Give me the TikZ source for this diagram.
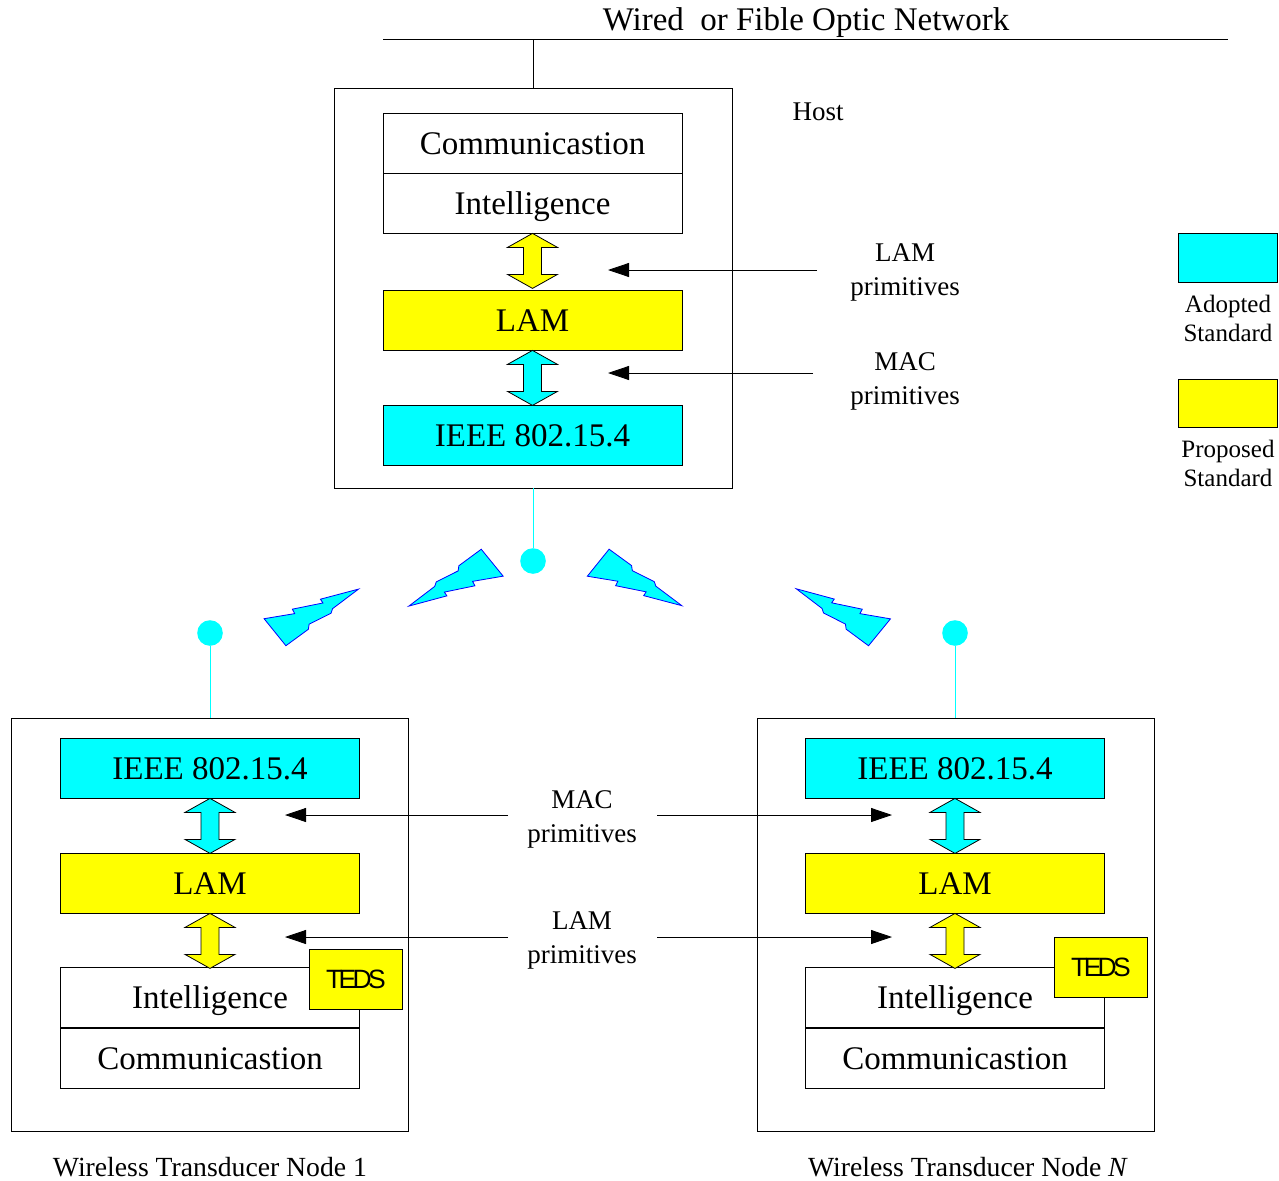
\documentclass[tikz,border=0pt]{standalone}
\usepackage{fontspec}
\setmainfont{Liberation Serif}
\newfontfamily\tedsfont[LetterSpace=-14]{Liberation Sans}
\usetikzlibrary{arrows.meta}

\definecolor{aqua}{RGB}{0,255,255}
\definecolor{lemon}{RGB}{255,255,0}
\definecolor{boltblue}{RGB}{0,0,255}

\newcommand{\bigfont}{\fontsize{33}{36}\selectfont}
\newcommand{\smallfont}{\fontsize{27}{34}\selectfont}
\newcommand{\captfont}{\fontsize{27.7}{32}\selectfont}
\newcommand{\legfont}{\fontsize{25}{29}\selectfont}

\tikzset{
  layer/.style={draw, line width=0.8pt, minimum width=299pt, minimum height=60pt, inner sep=0pt, font=\bigfont, text height=22pt, text depth=0pt},
  adopted/.style={layer, fill=aqua},
  proposed/.style={layer, fill=lemon},
  unit/.style={draw, line width=0.8pt, minimum width=397pt, minimum height=413pt, inner sep=0pt},
  teds/.style={draw, line width=0.8pt, fill=lemon, minimum width=93pt, minimum height=60pt, inner sep=0pt, font=\tedsfont\fontsize{26.5}{30}\selectfont},
  prim/.style={-{Triangle[length=21pt,width=14pt]}, line width=0.8pt},
  radio/.style={aqua, line width=0.8pt},
  antenna/.style={circle, fill=aqua, minimum size=25.6pt, inner sep=0pt},
  lbl/.style={font=\smallfont, align=center},
  leglbl/.style={font=\legfont, align=center},
  pics/dblarrow/.style={code={
    \draw[fill=#1, line width=0.8pt] (0,0) -- (25,14) -- (9,14) -- (9,41) -- (25,41) -- (0,55) -- (-25,41) -- (-9,41) -- (-9,14) -- (-25,14) -- cycle;
  }},
  pics/bolt/.style={code={
    \draw[fill=aqua, draw=boltblue, line width=0.8pt] (-3.5,-17) -- (26,-7.5) -- (26,-12.5) -- (56,-4) -- (55.5,-8.5) -- (94,0) -- (62,5.5) -- (58.5,8.8) -- (34,8.5) -- (31,12.7) -- (3.5,17) -- cycle;
  }}
}

\begin{document}
\begin{tikzpicture}[x=1pt,y=-1pt]
\useasboundingbox (0,0) rectangle (1279,1180);
\coordinate (netL) at (383,39);
\coordinate (netR) at (1228,39);
\draw[line width=0.8pt] (netL) -- (netR);
\node[font=\bigfont, anchor=base] (net) at (806,31) {Wired\ \ or Fible Optic Network};

\node[unit, minimum width=398pt, minimum height=400pt] (host) at (533,288) {};
\draw[line width=0.8pt] (host.north) -- (host.north |- netL);
\node[font=\smallfont] (hostlbl) at (818,112) {Host};
\node[layer] (hcomm) at (532.5,143) {Communicastion};
\node[layer] (hintel) at (532.5,203) {Intelligence};
\node[proposed] (hlam) at (532.5,320) {LAM};
\node[adopted] (hieee) at (532.5,435) {IEEE 802.15.4};
\pic at (hintel.south) {dblarrow=lemon};
\pic at (hlam.south) {dblarrow=aqua};
\node[lbl] (hlamp) at (905,272.5) {LAM\\primitives};
\node[lbl] (hmacp) at (905,381.5) {MAC\\primitives};
\coordinate (hlampS) at (817,270);
\coordinate (hlampE) at (608,270);
\coordinate (hmacpS) at (813,373);
\coordinate (hmacpE) at (608,373);
\draw[prim] (hlampS) -- (hlampE);
\draw[prim] (hmacpS) -- (hmacpE);

\node[draw, line width=0.8pt, fill=aqua, minimum width=99pt, minimum height=49pt] (adopt) at (1228,258) {};
\node[leglbl] (adopttxt) at (1228,318) {Adopted\\Standard};
\node[draw, line width=0.8pt, fill=lemon, minimum width=99pt, minimum height=48pt] (prop) at (1228,403) {};
\node[leglbl] (proptxt) at (1228,463) {Proposed\\Standard};

\node[antenna] (hant) at (533,561) {};
\draw[radio] (host.south) -- (hant);
\node[antenna] (n1ant) at (210,633) {};
\node[antenna] (nNant) at (955,633) {};

\pic[rotate=27.3] at (275,632.2) {bolt};
\pic[rotate=207.5] at (492.2,562.7) {bolt};
\pic[rotate=-27.2, yscale=-1] at (598.2,562.7) {bolt};
\pic[rotate=152.4, yscale=-1] at (879.5,632.3) {bolt};

\node[unit] (n1) at (209.5,924.5) {};
\draw[radio] (n1ant) -- (n1ant |- n1.north);
\node[adopted] (n1ieee) at (210,768) {IEEE 802.15.4};
\node[proposed] (n1lam) at (210,883) {LAM};
\node[layer] (n1intel) at (210,997.5) {Intelligence};
\node[layer] (n1comm) at (210,1058) {Communicastion};
\pic at (n1ieee.south) {dblarrow=aqua};
\pic at (n1lam.south) {dblarrow=lemon};
\node[teds] (n1teds) at (356,979.5) {TEDS};
\node[font=\captfont] (n1lbl) at (210,1167) {Wireless Transducer Node 1};

\node[unit] (nN) at (955.5,924.5) {};
\draw[radio] (nNant) -- (nNant |- nN.north);
\node[adopted] (nNieee) at (955,768) {IEEE 802.15.4};
\node[proposed] (nNlam) at (955,883) {LAM};
\node[layer] (nNintel) at (955,997.5) {Intelligence};
\node[layer] (nNcomm) at (955,1058) {Communicastion};
\pic at (nNieee.south) {dblarrow=aqua};
\pic at (nNlam.south) {dblarrow=lemon};
\node[teds] (nNteds) at (1101,967.5) {TEDS};
\node[font=\captfont] (nNlbl) at (968,1167) {Wireless Transducer Node \textit{N}};

\node[lbl] (macp) at (582,819) {MAC\\primitives};
\node[lbl] (lamp) at (582,940) {LAM\\primitives};
\coordinate (macL0) at (508,815);
\coordinate (macL1) at (285,815);
\coordinate (macR0) at (657,815);
\coordinate (macR1) at (892,815);
\coordinate (lamL0) at (508,937);
\coordinate (lamL1) at (285,937);
\coordinate (lamR0) at (657,937);
\coordinate (lamR1) at (892,937);
\draw[prim] (macL0) -- (macL1);
\draw[prim] (macR0) -- (macR1);
\draw[prim] (lamL0) -- (lamL1);
\draw[prim] (lamR0) -- (lamR1);
\end{tikzpicture}
\end{document}
